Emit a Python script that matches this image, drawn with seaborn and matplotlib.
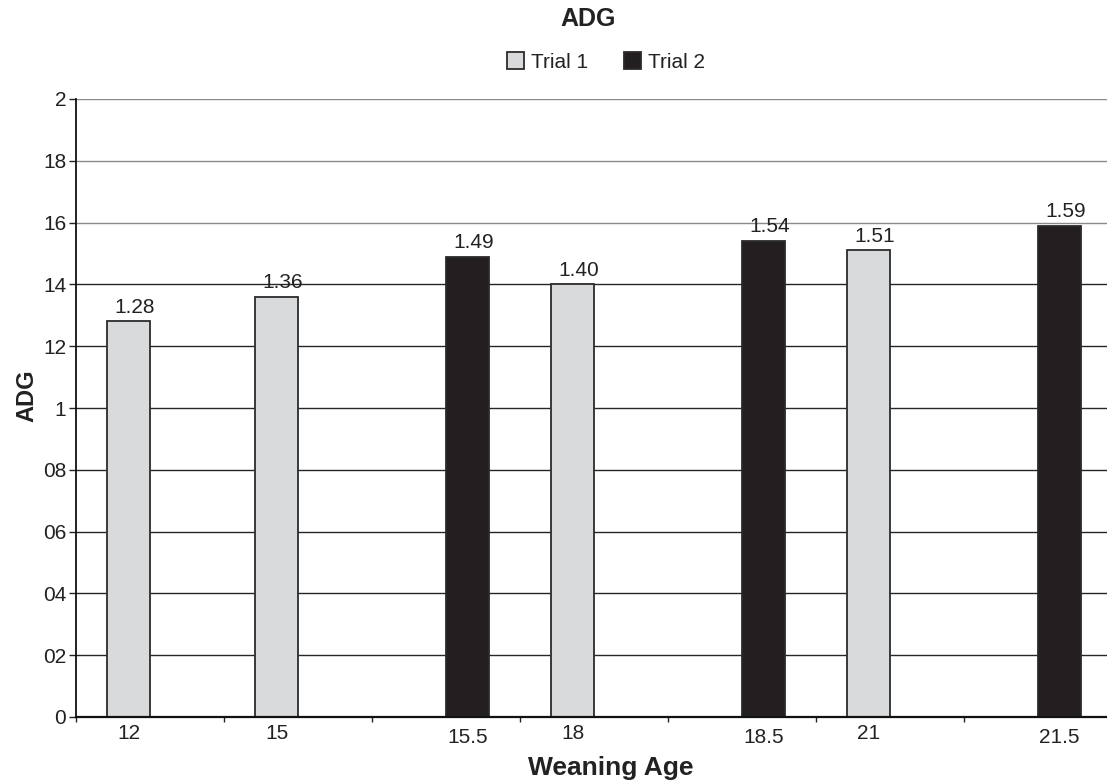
import matplotlib
matplotlib.use("Agg")
import matplotlib.pyplot as plt
import seaborn as sns
import pandas as pd
from matplotlib.ticker import FixedLocator

# ---- data ----
categories = ["12", "15", "15.5", "18", "18.5", "21", "21.5"]
trials = ["Trial 1", "Trial 1", "Trial 2", "Trial 1", "Trial 2", "Trial 1", "Trial 2"]
adg = [1.28, 1.36, 1.49, 1.40, 1.54, 1.51, 1.59]
hue_levels = ["Trial 1", "Trial 2"]
ytick_values = [0, 0.2, 0.4, 0.6, 0.8, 1.0, 1.2, 1.4, 1.6, 1.8, 2.0]
ytick_labels = ["0", "02", "04", "06", "08", "1", "12", "14", "16", "18", "2"]

df = pd.DataFrame({"Weaning Age": categories, "Trial": trials, "ADG": adg})

sns.set_style("white")
plt.rcParams["font.family"] = ["Liberation Sans", "DejaVu Sans"]

TXT = "#222222"
fig = plt.figure(figsize=(11.07, 7.84), dpi=100)
ax = fig.add_axes([76 / 1107, 1 - 717 / 784, 1 - 76 / 1107, (717 - 99) / 784])

palette = {"Trial 1": "#d9dadc", "Trial 2": "#231f20"}
sns.barplot(data=df, x="Weaning Age", y="ADG", hue="Trial", order=categories,
            hue_order=hue_levels, palette=palette, width=0.58, dodge=True,
            edgecolor="#2b2b2b", linewidth=1.3, saturation=1, errorbar=None,
            legend=True, ax=ax)

for cont in ax.containers:
    anns = ax.bar_label(cont, fmt="%.2f", padding=3.5, fontsize=15, color=TXT)
    for a in anns:
        a.xyann = (4.3, 3.5)

ax.set_ylim(0, 2.0)
ax.set_xlim(-0.5, 6.466)
ax.set_yticks(ytick_values)
ax.set_yticklabels(ytick_labels, fontsize=15, color=TXT)
ax.yaxis.grid(True)
ax.set_axisbelow(True)
for i, gl in enumerate(ax.get_ygridlines()):
    gl.set_linewidth(1.0)
    gl.set_color("#8a8a8a" if ytick_values[i] >= 1.6 else "#262626")
ax.tick_params(axis="y", which="major", direction="out", length=5, width=1,
               color=TXT, pad=2, left=True)

# x ticks: labels centred under each bar, marks at category boundaries
offsets = {"Trial 1": -0.145, "Trial 2": 0.145}
label_pos = [i + offsets[t] for i, t in enumerate(trials)]
ax.set_xticks(label_pos)
ax.set_xticklabels(categories, fontsize=15, color=TXT)
ax.xaxis.set_minor_locator(FixedLocator([i - 0.5 for i in range(len(categories) + 1)]))
ax.tick_params(axis="x", which="major", length=0, pad=4.7)
ax.tick_params(axis="x", which="minor", direction="out", length=3.5, width=1,
               color=TXT, bottom=True)
for tk, t in zip(ax.xaxis.get_major_ticks(), trials):
    if t == "Trial 2":
        tk.set_pad(7.6)

for s in ["top", "right"]:
    ax.spines[s].set_visible(False)
ax.spines["left"].set_color("#111111")
ax.spines["left"].set_linewidth(1.3)
ax.spines["bottom"].set_color("#111111")
ax.spines["bottom"].set_linewidth(1.6)

ax.set_xlabel("")
ax.set_ylabel("")

# legend
leg = ax.legend(loc="center", bbox_to_anchor=(606 / 1107, 1 - 62 / 784),
                bbox_transform=fig.transFigure, ncol=2, frameon=False,
                fontsize=15, handlelength=0.82, handleheight=0.82,
                handletextpad=0.33, columnspacing=1.7)
for txt in leg.get_texts():
    txt.set_color(TXT)

fig.text(588 / 1107, 1 - 19 / 784, "ADG", ha="center", va="center",
         fontsize=18, fontweight="bold", color=TXT)
fig.text(27 / 1107, 1 - 396 / 784, "ADG", ha="center", va="center",
         rotation=90, fontsize=17, fontweight="bold", color=TXT)
fig.text(611 / 1107, 1 - 768 / 784, "Weaning Age", ha="center", va="center",
         fontsize=19, fontweight="bold", color=TXT)

fig.savefig("out.png", dpi=100, facecolor="white")
